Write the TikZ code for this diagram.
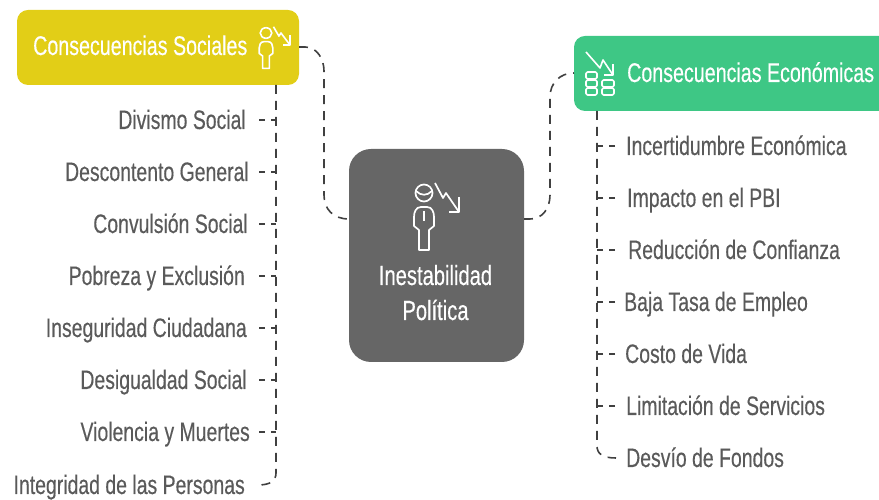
\documentclass[tikz,border=0pt]{standalone}
\usepackage{fontspec}
\setmainfont[FakeStretch=0.728,FakeBold=0.3]{Liberation Sans}
\definecolor{socialyellow}{HTML}{E2CE17}
\definecolor{econgreen}{HTML}{3EC785}
\definecolor{centergray}{HTML}{666666}
\definecolor{leafgray}{HTML}{5A5A5A}
\definecolor{linkgray}{HTML}{404040}
\tikzset{
  headbox/.style={fill=#1,rounded corners=11pt,inner sep=0pt},
  leaf/.style={text=leafgray,font=\fontsize{26.7}{30}\selectfont,inner sep=0pt},
  headtxt/.style={text=white,font=\fontsize{27}{30}\selectfont,inner sep=0pt},
  link/.style={draw=linkgray,line width=1.6pt,dash pattern=on 9pt off 7pt},
  stub/.style={draw=linkgray,line width=1.6pt,dash pattern=on 6pt off 6pt},
  icon/.style={draw=white,line width=#1,line join=round,fill=none},
  pics/faller/.style={code={
    \draw[icon=#1] (0,0) circle (8.5);
    \draw[icon=#1] (-3,-14) .. controls (-8,-14) and (-10,-19) .. (-10,-24) -- (-10,-33) -- (-5,-37) -- (-5,-57) -- (5,-57) -- (5,-37) -- (10,-33) -- (10,-24) .. controls (10,-19) and (8,-14) .. (3,-14) -- cycle;
    \draw[icon=#1] (11,10) -- (19,-5) -- (22,0) -- (35,-19);
    \draw[icon=#1] (35,-4) -- (35,-19) -- (25,-19);
  }}
}
\begin{document}
\begin{tikzpicture}[x=1pt,y=1pt]
\useasboundingbox (0,0) rectangle (879,500);
\def\spineL{276}
\def\spineR{597}

\path[headbox=socialyellow] (17,415) rectangle (299,490);
\coordinate (socialeast) at (299,453);
\coordinate (socialfoot) at (\spineL,415);
\node[headtxt,anchor=base west] (socialtxt) at (33,445) {Consecuencias Sociales};

\path[headbox=econgreen] (574,389) rectangle (895,464);
\coordinate (econwest) at (574,427);
\coordinate (econfoot) at (\spineR,389);
\node[headtxt,anchor=base west] (econtxt) at (627,418) {Consecuencias Económicas};

\path[fill=centergray,rounded corners=22pt] (349,138) rectangle (524,351);
\coordinate (centerwest) at (349,281);
\coordinate (centereast) at (524,281);
\node[headtxt,anchor=base,font=\fontsize{27.7}{30}\selectfont] (centertxt1) at (435.5,215) {Inestabilidad};
\node[headtxt,anchor=base,font=\fontsize{27.7}{30}\selectfont] (centertxt2) at (435.5,180) {Política};

% icons
\pic at (424,307) {faller=1.7pt};
\draw[icon=1.7pt] (416,309) .. controls (421,304) and (427,304) .. (432,309);
\draw[icon=1.7pt] (424,289) -- (424,279);
\pic[xscale=.68,yscale=.62] at (266,467) {faller=1.6pt};
\draw[icon=1.6pt] (586,448) -- (600,432) -- (603,440) -- (613,425);
\draw[icon=1.6pt] (613,436) -- (613,425) -- (604,425);
\foreach \yy in {405,413,421}
  \draw[icon=1.6pt,rounded corners=1.5pt] (586,\yy) rectangle (597,\yy+7);
\foreach \yy in {405,413}
  \draw[icon=1.6pt,rounded corners=1.5pt] (602,\yy) rectangle (614,\yy+7);

% main links
\draw[link] (socialeast) -- (305,453) .. controls (317,453) and (324,441) .. (324,429) -- (324,305) .. controls (324,291) and (333,281) .. (centerwest);
\draw[link] (centereast) -- (530,281) .. controls (542,281) and (550,291) .. (550,305) -- (550,403) .. controls (550,417) and (560,427) .. (econwest);

% social leaves
\foreach \name/\yy/\xe/\txt in {a/380/246/Divismo Social,b/328/249/Descontento General,c/276/248/Convulsión Social,d/224/245/Pobreza y Exclusión,e/172/247/Inseguridad Ciudadana,f/120/247/Desigualdad Social,g/68/250/Violencia y Muertes}{
  \node[leaf,anchor=base east] (soc\name) at (\xe,\yy-9) {\txt};
  \coordinate (socjoin\name) at (\spineL,\yy);
  \coordinate (socstub\name) at (259,\yy);
  \draw[stub] (socstub\name) -- (socjoin\name);
}
\node[leaf,anchor=base east] (soch) at (245,6) {Integridad de las Personas};
\coordinate (socstubh) at (258,15);
\draw[link] (socialfoot) -- (\spineL,27) .. controls (\spineL,19) and (270,15) .. (socstubh);

% econ leaves
\foreach \name/\yy/\xs/\txt in {a/354/626/Incertidumbre Económica,b/302/627/Impacto en el PBI,c/250/628/Reducción de Confianza,d/198/624/Baja Tasa de Empleo,e/146/625/Costo de Vida,f/94/626/Limitación de Servicios}{
  \node[leaf,anchor=base west] (eco\name) at (\xs,\yy-9) {\txt};
  \coordinate (ecojoin\name) at (\spineR,\yy);
  \coordinate (ecostub\name) at (615,\yy);
  \draw[stub] (ecostub\name) -- (ecojoin\name);
}
\node[leaf,anchor=base west] (ecog) at (626,33) {Desvío de Fondos};
\coordinate (ecostubg) at (616,42);
\draw[link] (econfoot) -- (\spineR,54) .. controls (\spineR,46) and (603,42) .. (ecostubg);
\end{tikzpicture}
\end{document}
